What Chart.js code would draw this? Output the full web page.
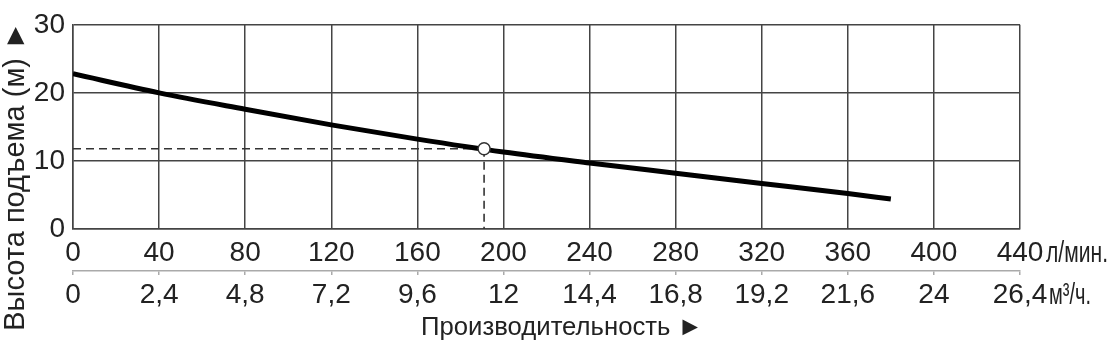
<!DOCTYPE html>
<html>
<head>
<meta charset="utf-8">
<script src="https://cdn.jsdelivr.net/npm/chart.js@4/dist/chart.umd.min.js"></script>
<style>
  html, body { margin: 0; padding: 0; background: #fff; }
  #wrap { width: 1109px; height: 348px; }
</style>
</head>
<body>
<div id="wrap"><canvas id="pumpChart"></canvas></div>
<script>
// Данные кривой насоса
const flowLpm = [0, 40, 80, 120, 160, 200, 240, 280, 320, 360, 400, 440];
const flowM3h = ['0', '2,4', '4,8', '7,2', '9,6', '12', '14,4', '16,8', '19,2', '21,6', '24', '26,4'];
const headTicks = [0, 10, 20, 30];

const curveFlow = [0, 40, 80, 120, 160, 200, 240, 280, 320, 360, 380];
const curveHead = [22.8, 20.0, 17.6, 15.3, 13.2, 11.3, 9.7, 8.2, 6.7, 5.2, 4.4];

const dutyFlow = 191;
const dutyHead = 11.8;

const tickFont = { family: "'Liberation Sans', sans-serif", size: 28 };
const gridColor = '#444';
const textColor = '#222';

// подписи осей и единицы
const labelsPlugin = {
  id: 'labels',
  afterDraw(chart) {
    const ctx = chart.ctx;
    const x = chart.scales.x;
    ctx.save();
    ctx.fillStyle = textColor;
    ctx.textBaseline = 'middle';
    ctx.textAlign = 'left';
    ctx.font = "30px 'Liberation Sans', sans-serif";
    const right = x.getPixelForValue(440);
    ctx.fillText('л/мин.', right + 26, 254, 62);
    ctx.fillText('м³/ч.', right + 29, 296, 42);

    ctx.textAlign = 'center';
    ctx.font = "26.5px 'Liberation Sans', sans-serif";
    ctx.fillText('Производительность ►', 562, 328, 282);

    ctx.translate(16, 176);
    ctx.rotate(-Math.PI / 2);
    ctx.font = "29px 'Liberation Sans', sans-serif";
    ctx.fillText('Высота подъема (м) ►', 0, 0, 318);
    ctx.restore();
  }
};

new Chart(document.getElementById('pumpChart'), {
  type: 'line',
  data: {
    datasets: [{
      data: [{ x: dutyFlow, y: dutyHead }],
      borderColor: '#333',
      backgroundColor: '#fff',
      pointRadius: 6,
      pointBorderWidth: 1.5,
      showLine: false,
      order: 0
    }, {
      data: curveFlow.map((f, i) => ({ x: f, y: curveHead[i] })),
      borderColor: '#000',
      borderWidth: 5,
      pointRadius: 0,
      fill: false,
      cubicInterpolationMode: 'monotone',
      order: 1
    }, {
      data: [{ x: 0, y: dutyHead }, { x: dutyFlow, y: dutyHead }],
      borderColor: '#333',
      borderWidth: 1.6,
      borderDash: [8, 5],
      pointRadius: 0,
      order: 2
    }, {
      data: [{ x: dutyFlow, y: dutyHead }, { x: dutyFlow, y: 0 }],
      borderColor: '#333',
      borderWidth: 1.6,
      borderDash: [8, 5],
      pointRadius: 0,
      order: 2
    }]
  },
  options: {
    responsive: true,
    maintainAspectRatio: false,
    animation: false,
    layout: { padding: { left: 30, top: 21, right: 89, bottom: 27 } },
    plugins: {
      legend: { display: false },
      tooltip: { enabled: false }
    },
    scales: {
      x: {
        type: 'linear',
        min: 0,
        max: 440,
        afterBuildTicks: (s) => { s.ticks = flowLpm.map(v => ({ value: v })); },
        afterFit: (s) => { s.height = 42; },
        grid: { color: gridColor, lineWidth: 1.5, drawTicks: false },
        border: { color: gridColor, width: 1.5 },
        ticks: { font: tickFont, color: textColor, padding: 7, maxRotation: 0, callback: (v) => String(v) }
      },
      x2: {
        type: 'linear',
        position: 'bottom',
        min: 0,
        max: 440,
        afterBuildTicks: (s) => { s.ticks = flowLpm.map(v => ({ value: v })); },
        afterFit: (s) => { s.height = 50; },
        grid: { drawOnChartArea: false, color: '#aaa', tickLength: 4, lineWidth: 1.5 },
        border: { color: '#aaa', width: 1.5 },
        ticks: { font: tickFont, color: textColor, padding: 3, maxRotation: 0,
          callback: (v, i) => flowM3h[i] }
      },
      y: {
        min: 0,
        max: 30,
        afterBuildTicks: (s) => { s.ticks = headTicks.map(v => ({ value: v })); },
        afterFit: (s) => { s.width = 43; },
        grid: { color: gridColor, lineWidth: 1.5, drawTicks: false },
        border: { color: gridColor, width: 1.5 },
        ticks: { font: tickFont, color: textColor, padding: 8 }
      }
    }
  },
  plugins: [labelsPlugin]
});
</script>
</body>
</html>
